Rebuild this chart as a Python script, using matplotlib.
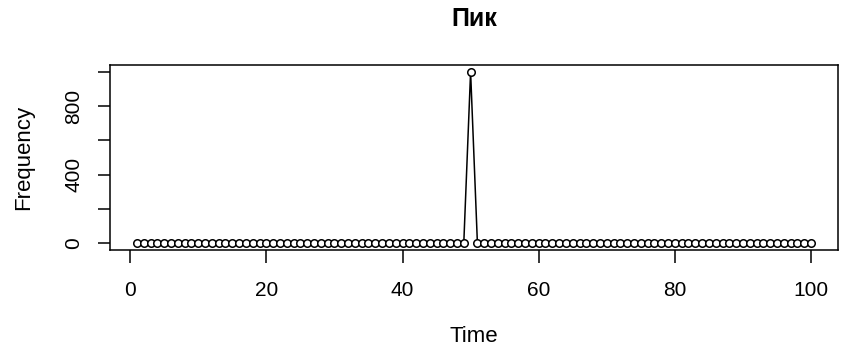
import numpy as np
import matplotlib
matplotlib.use('Agg')
import matplotlib.pyplot as plt

plt.rcParams['font.family'] = ['Liberation Sans', 'DejaVu Sans']

time = np.arange(1, 101)
freq = np.zeros(100)
freq[49] = 1000

fig = plt.figure(figsize=(8.44, 3.49), dpi=100)
ax = fig.add_axes([110/844, 1-250/349, 728/844, 185/349])

ax.plot(time, freq, color='black', lw=1.1, marker='o', ms=5.4,
        mfc='white', mec='black', mew=1.1)

# R-style 4% axis extension
xr = time.max() - time.min()
yr = freq.max() - freq.min()
ax.set_xlim(time.min() - 0.04*xr, time.max() + 0.04*xr)
ax.set_ylim(freq.min() - 0.04*yr, freq.max() + 0.04*yr)

ax.set_xticks([0, 20, 40, 60, 80, 100])
ax.set_yticks([0, 200, 400, 600, 800, 1000])
ax.set_yticklabels(['0', '', '400', '', '800', ''])
ax.tick_params(axis='both', length=9, width=1.1, labelsize=15, color='black')
ax.tick_params(axis='x', pad=13)
ax.tick_params(axis='y', pad=10, labelrotation=90)
for lbl in ax.get_yticklabels():
    lbl.set_va('center')
for s in ax.spines.values():
    s.set_linewidth(1.1)

ax.set_xlabel('Time', fontsize=16, labelpad=19)
ax.set_ylabel('Frequency', fontsize=16, labelpad=22)
ax.set_title('Пик', fontsize=18, fontweight='bold', pad=28)

fig.savefig('out.png', dpi=100)
